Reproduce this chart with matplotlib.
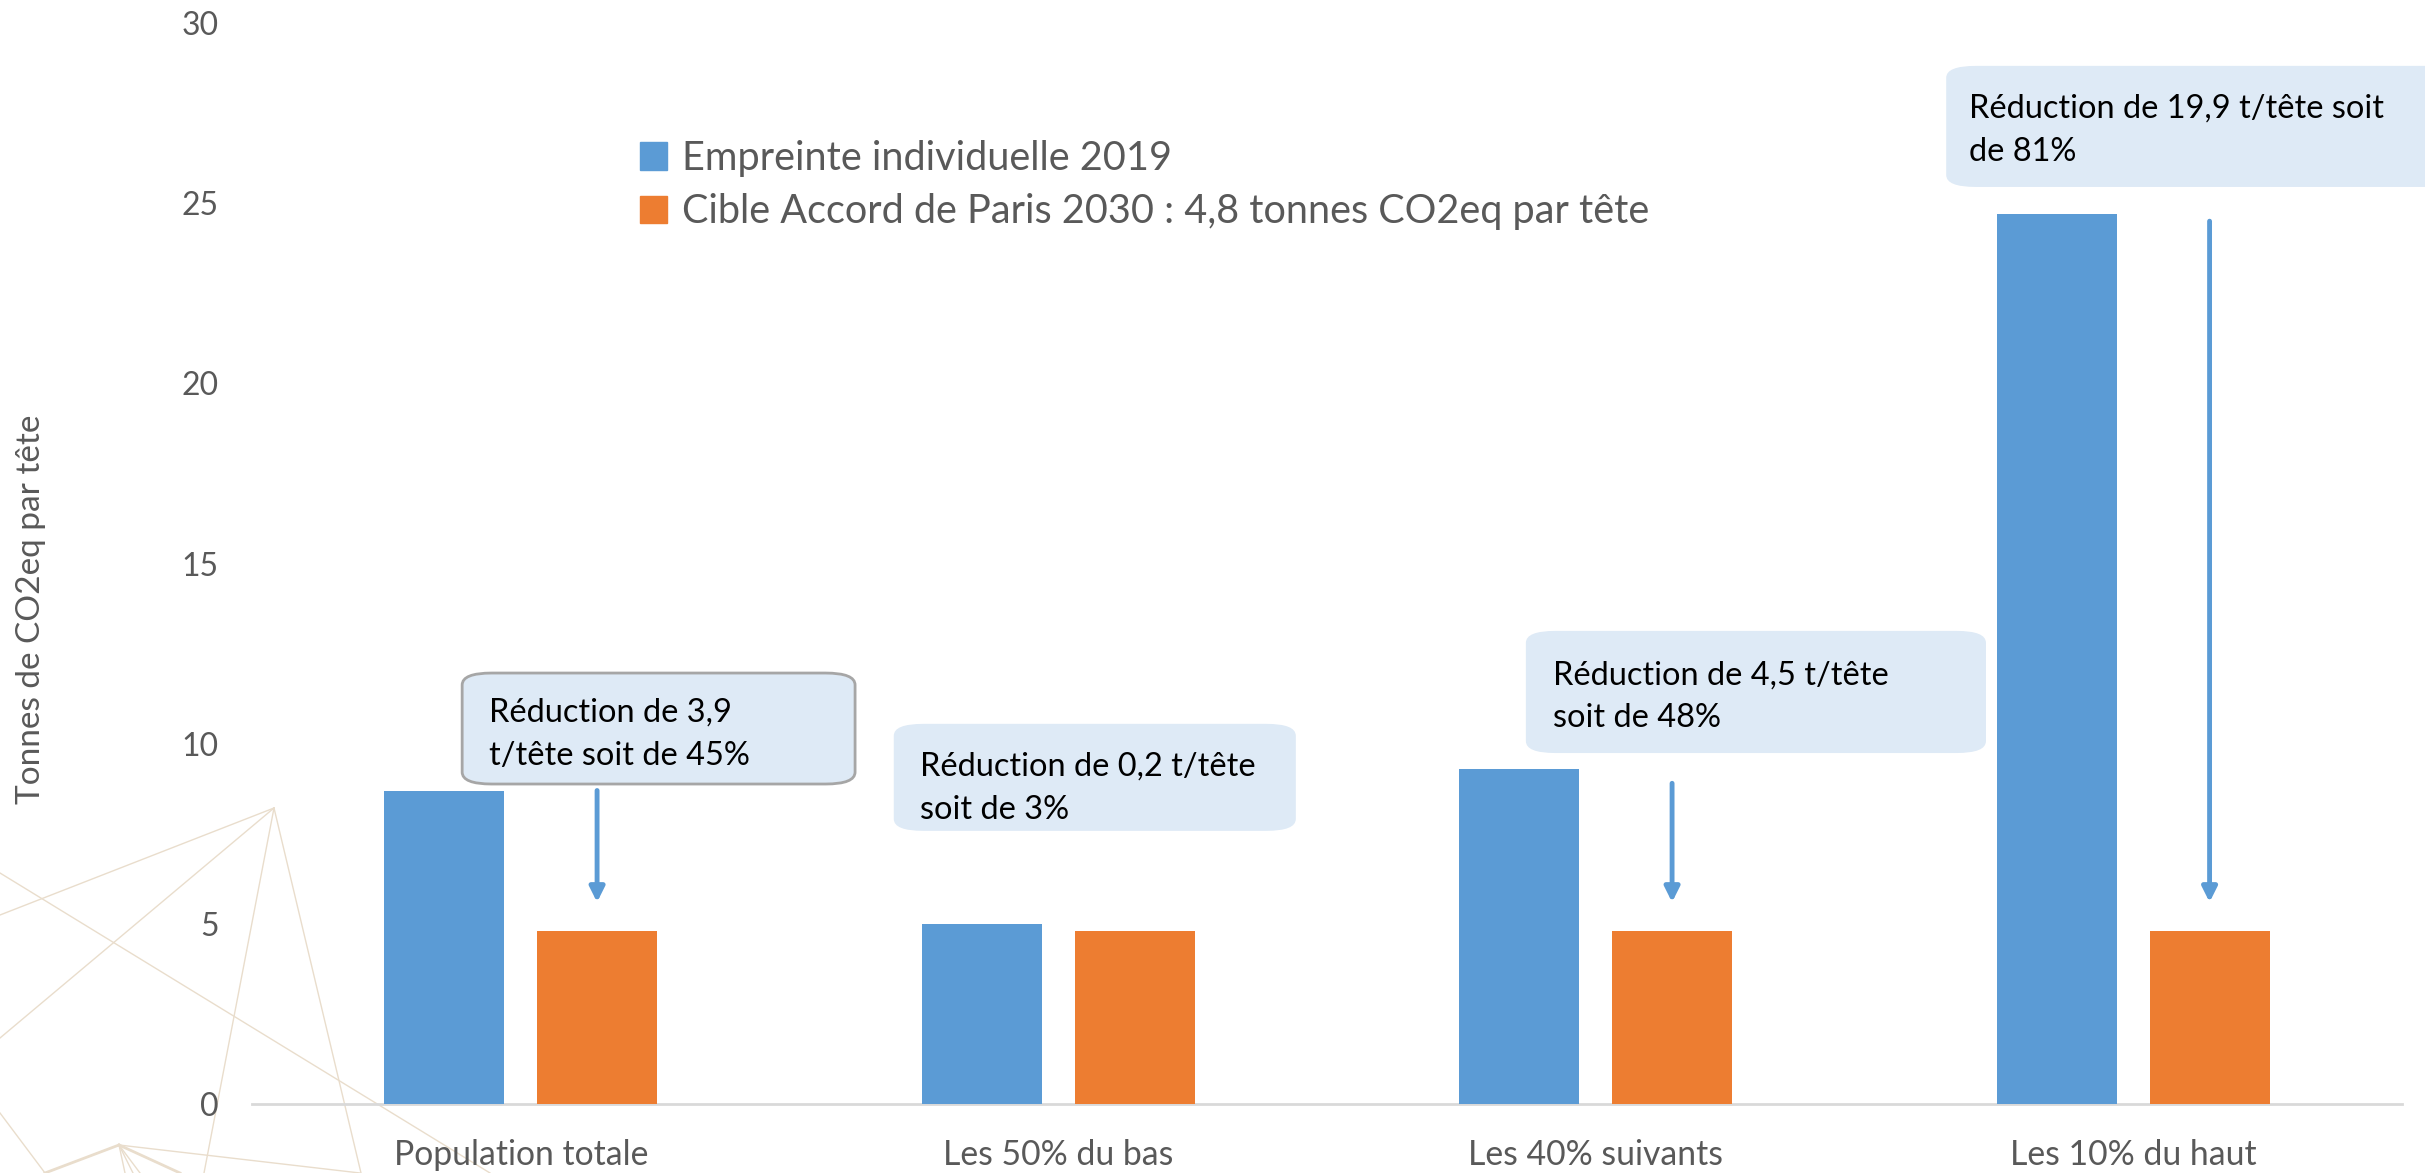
import matplotlib
matplotlib.use("Agg")
import matplotlib.pyplot as plt
from matplotlib.patches import Patch, FancyBboxPatch
from matplotlib.lines import Line2D
import numpy as np

# ---- data ----
categories = ["Population totale", "Les 50% du bas", "Les 40% suivants", "Les 10% du haut"]
empreinte_2019 = [8.7, 5.0, 9.3, 24.7]
cible_2030 = [4.8, 4.8, 4.8, 4.8]
series_labels = ["Empreinte individuelle 2019",
                 "Cible Accord de Paris 2030 : 4,8 tonnes CO2eq par tête"]
annotations = ["Réduction de 3,9\nt/tête soit de 45%",
               "Réduction de 0,2 t/tête\nsoit de 3%",
               "Réduction de 4,5 t/tête\nsoit de 48%",
               "Réduction de 19,9 t/tête soit\nde 81%"]
yticks = [0, 5, 10, 15, 20, 25, 30]
ylabel = "Tonnes de CO2eq par tête"

BLUE = "#5B9BD5"
ORANGE = "#ED7D31"
GRAY = "#595959"
BOXFILL = "#DEEAF6"
DECO = "#E9DDCC"

plt.rcParams['font.family'] = ['Lato', 'DejaVu Sans']

W, H = 2425, 1173
fig = plt.figure(figsize=(W / 100, H / 100), dpi=100)
ax = fig.add_axes([252 / W, 69 / H, 2150 / W, 1081 / H])

# ---- decorative background lines (figure pixel coords) ----
def px(x, y):
    return x / W, 1 - y / H

deco = [((274, 808), (0, 915)), ((274, 808), (0, 1038)), ((274, 808), (204, 1173)),
        ((274, 808), (361, 1173)), ((0, 873), (490, 1173)), ((0, 1113), (45, 1173)),
        ((119, 1145), (45, 1173)), ((119, 1145), (180, 1173)), ((119, 1145), (360, 1173)),
        ((119, 1145), (125, 1173)), ((119, 1145), (133, 1173)), ((119, 1145), (140, 1173))]
for (a, b) in deco:
    (x0, y0), (x1, y1) = px(*a), px(*b)
    lw = 2.0 if a == (119, 1145) and b in [(45, 1173), (180, 1173)] else 1.0
    fig.add_artist(Line2D([x0, x1], [y0, y1], color=DECO, lw=lw, zorder=0))

x = np.arange(len(categories))
bw = 0.223
off = 0.142
ax.bar(x - off, empreinte_2019, bw, color=BLUE, zorder=3, label=series_labels[0])
ax.bar(x + off, cible_2030, bw, color=ORANGE, zorder=3, label=series_labels[1])

ax.set_xlim(-0.5, len(categories) - 0.5)
ax.set_ylim(0, 30)
ax.set_yticks(yticks)
ax.set_xticks(x)
ax.set_xticklabels(categories)
ax.tick_params(axis='both', length=0, labelcolor=GRAY)
ax.tick_params(axis='y', pad=24, labelsize=23)
ax.tick_params(axis='x', pad=25, labelsize=24.3)
for s in ["top", "right", "left"]:
    ax.spines[s].set_visible(False)
ax.spines["bottom"].set_color("#D9D9D9")
ax.spines["bottom"].set_linewidth(2)
ax.patch.set_alpha(0)

fig.text(31 / W, 1 - 609 / H, ylabel, rotation=90, va='center', ha='center',
         fontsize=24, color=GRAY)

# ---- legend ----
handles = [Patch(color=BLUE), Patch(color=ORANGE)]
leg = ax.legend(handles, series_labels, loc='upper left',
                bbox_to_anchor=(604 / W, 1 - 104 / H), bbox_transform=fig.transFigure,
                frameon=False, fontsize=28.5, handlelength=0.7, handleheight=0.7,
                handletextpad=0.38, labelspacing=0.42, labelcolor=GRAY)

# ---- annotation boxes (data coords) ----
boxes = [(-0.109, 8.88, 0.731, 3.08, True),
         (0.694, 7.58, 0.748, 2.97, False),
         (1.870, 9.74, 0.856, 3.39, False),
         (2.652, 25.45, 0.95, 3.36, False)]
text_pos = [(-0.059, 10.26), (0.743, 8.76), (1.920, 11.30), (2.694, 27.03)]
for (bx, by, bwid, bh, edge), (tx, ty), txt in zip(boxes, text_pos, annotations):
    p = FancyBboxPatch((bx, by), bwid, bh,
                       boxstyle="round,pad=0,rounding_size=0.055",
                       mutation_aspect=6.0,
                       facecolor=BOXFILL,
                       edgecolor="#A6A6A6" if edge else "none",
                       lw=2 if edge else 0, zorder=4, clip_on=False)
    ax.add_patch(p)
    ax.text(tx, ty, txt, ha='left', va='center', fontsize=23.4, color='black',
            linespacing=1.55, zorder=5, clip_on=False)

# ---- arrows ----
arrow_idx = [0, 2, 3]
arrow_start = [8.7, 8.9, 24.5]
arrow_end = [5.6, 5.6, 5.6]
for i, ys, ye in zip(arrow_idx, arrow_start, arrow_end):
    xa = x[i] + off
    ax.annotate("", xy=(xa, ye), xytext=(xa, ys),
                arrowprops=dict(arrowstyle='-|>', color=BLUE, lw=3.5,
                                mutation_scale=22, shrinkA=0, shrinkB=0),
                zorder=5)

fig.savefig("out.png", dpi=100)
